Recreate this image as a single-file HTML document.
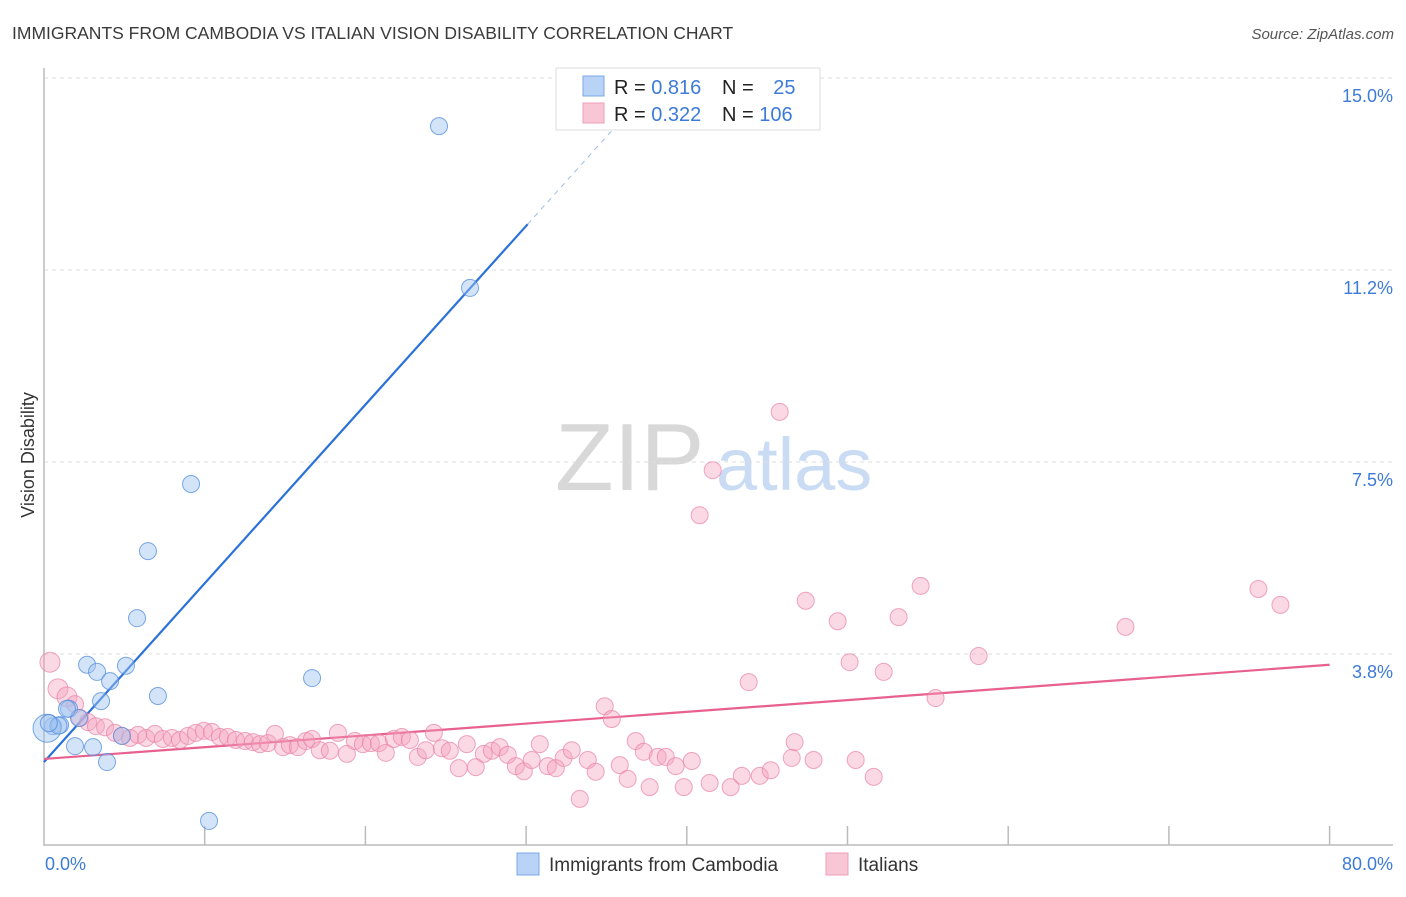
<!DOCTYPE html>
<html><head><meta charset="utf-8"><style>
body{margin:0;background:#fff;font-family:"Liberation Sans",sans-serif;}
svg text{font-family:"Liberation Sans",sans-serif;}
</style></head><body>
<svg id="chart" width="1406" height="892" viewBox="0 0 1406 892" xmlns="http://www.w3.org/2000/svg">
<text x="12" y="39" font-size="17.5" fill="#3a3a3a">IMMIGRANTS FROM CAMBODIA VS ITALIAN VISION DISABILITY CORRELATION CHART</text>
<text x="1394" y="39" font-size="15" fill="#555" text-anchor="end" font-style="italic">Source: ZipAtlas.com</text>
<g>
<text x="555" y="490" font-size="96" fill="#d8d8d8" font-family="Liberation Serif, serif">ZIP</text>
<text x="716" y="490" font-size="74" fill="#c9dcf3">atlas</text>
</g>
<g id="grid"></g>
<g id="axes"></g>
<g id="lines"></g>
<g id="pts"></g>
<text transform="translate(34,455) rotate(-90)" font-size="18" fill="#333" text-anchor="middle">Vision Disability</text>
<g>
<rect x="556" y="68" width="264" height="62" fill="#fff" stroke="#ddd"/>
<rect x="583" y="76" width="21" height="20" fill="#b8d3f5" stroke="#7aa7e6"/>
<rect x="583" y="103" width="21" height="20" fill="#f9c6d5" stroke="#ee9fb8"/>
<text x="614" y="94" font-size="20" fill="#222">R = <tspan fill="#3d7bd9">0.816</tspan></text>
<text x="722" y="94" font-size="20" fill="#222">N = <tspan fill="#3d7bd9" dx="14">25</tspan></text>
<text x="614" y="121" font-size="20" fill="#222">R = <tspan fill="#3d7bd9">0.322</tspan></text>
<text x="722" y="121" font-size="20" fill="#222">N = <tspan fill="#3d7bd9">106</tspan></text>
</g>
<g>
<rect x="517" y="853" width="22" height="22" fill="#b8d3f5" stroke="#7aa7e6"/>
<text x="549" y="871" font-size="19" fill="#333">Immigrants from Cambodia</text>
<rect x="826" y="853" width="22" height="22" fill="#f9c6d5" stroke="#ee9fb8"/>
<text x="858" y="871" font-size="19" fill="#333">Italians</text>
</g>
</svg>
<script>
const yTicks=[3.75,7.5,11.25,15];
const yTickLabels=["3.8%","7.5%","11.2%","15.0%"];
const xTickVals=[0,10,20,30,40,50,60,70,80];
const xEndLabels=["0.0%","80.0%"];
const blueX=[24.58,26.51,9.15,6.47,5.79,2.68,3.30,5.10,4.11,7.09,3.55,16.68,1.56,2.18,0.56,1.0,0.19,1.93,3.05,3.92,10.27,4.85,1.43,0.9,0.3];
const blueY=[14.06,10.90,7.07,5.76,4.45,3.54,3.40,3.52,3.22,2.93,2.83,3.28,2.68,2.50,2.34,2.36,2.30,1.95,1.93,1.64,0.49,2.15,2.68,2.35,2.40];
const pinkX=[0.37,0.87,1.43,1.93,2.24,2.74,3.23,3.80,4.42,4.85,5.35,5.85,6.35,6.90,7.40,7.96,8.46,8.96,9.45,9.95,10.45,10.95,11.44,11.94,12.50,13.00,13.44,13.93,14.37,14.87,15.30,15.80,16.30,16.67,17.16,17.79,18.29,18.85,19.34,19.84,20.34,20.84,21.27,21.77,22.27,22.77,23.26,23.76,24.26,24.76,25.25,25.81,26.31,26.87,27.37,27.87,28.36,28.86,29.36,29.86,30.35,30.85,31.35,31.85,32.34,32.84,33.34,33.84,34.33,34.89,35.33,35.83,36.32,36.82,37.32,37.69,38.19,38.69,39.31,39.81,40.31,40.80,41.42,41.61,42.73,43.42,43.85,44.54,45.22,45.78,46.53,46.71,47.40,47.89,49.39,50.13,50.51,51.63,52.25,53.18,54.55,55.48,58.16,67.30,75.57,76.94];
const pinkY=[3.59,3.07,2.91,2.77,2.50,2.42,2.34,2.32,2.21,2.15,2.11,2.17,2.11,2.19,2.09,2.11,2.07,2.15,2.21,2.25,2.23,2.13,2.13,2.07,2.05,2.03,1.99,2.01,2.19,1.93,1.97,1.93,2.05,2.09,1.87,1.86,2.21,1.80,2.05,1.99,2.01,2.01,1.82,2.09,2.13,2.07,1.74,1.87,2.21,1.91,1.86,1.52,1.99,1.54,1.80,1.86,1.93,1.78,1.56,1.46,1.68,1.99,1.56,1.52,1.72,1.87,0.92,1.68,1.45,2.73,2.48,1.58,1.31,2.05,1.84,1.15,1.74,1.74,1.56,1.15,1.66,6.46,1.23,7.34,1.15,1.37,3.20,1.37,1.48,8.48,1.72,2.03,4.79,1.68,4.39,3.59,1.68,1.35,3.40,4.47,5.08,2.89,3.71,4.28,5.02,4.71];
const blueFit=[1.64,0.349];
const pinkFit=[1.70,0.023];
const NS="http://www.w3.org/2000/svg";
const X=v=>44+v*16.07, Y=v=>846-v*51.2;
function mk(tag,attrs,parent,txt){const e=document.createElementNS(NS,tag);for(const k in attrs)e.setAttribute(k,attrs[k]);if(txt!==undefined)e.textContent=txt;document.getElementById(parent).appendChild(e);return e;}
yTicks.forEach((t,i)=>{
 let g=mk('line',{x1:44,x2:1393,y1:Y(t),y2:Y(t),stroke:'#dedede','stroke-dasharray':'4,4'},'grid');
 
 
 let l=mk('text',{x:1393,y:Y(t)+24,'font-size':18,fill:'#3d7bd9','text-anchor':'end'},'grid',yTickLabels[i]);
 
 
});
let ax=mk('line',{x1:44,x2:44,y1:68,y2:846,stroke:'#bbb','stroke-width':1.5},'axes');


let bx=mk('line',{x1:44,x2:1393,y1:845,y2:845,stroke:'#bbb','stroke-width':1.5},'axes');


xTickVals.slice(1).forEach(v=>{
 let t=mk('line',{x1:X(v),x2:X(v),y1:826,y2:845,stroke:'#bbb','stroke-width':1.5},'axes');
 
 
});
let xl0=mk('text',{x:45,y:870,'font-size':18,fill:'#3d7bd9'},'axes',xEndLabels[0]);


let xl1=mk('text',{x:1393,y:870,'font-size':18,fill:'#3d7bd9','text-anchor':'end'},'axes',xEndLabels[1]);


pinkX.forEach((x,i)=>{
 let c=mk('circle',{cx:X(x),cy:Y(pinkY[i]),r:i<3?10:8.5,fill:'rgba(245,160,188,0.4)',stroke:'rgba(232,130,165,0.7)','stroke-width':1},'pts');
 
 
});
blueX.forEach((x,i)=>{
 let c=mk('circle',{cx:X(x),cy:Y(blueY[i]),r:i===16?14:8.5,fill:'rgba(160,196,240,0.45)',stroke:'rgba(80,140,220,0.75)','stroke-width':1},'pts');
 
 
});
const bxEnd=30.1, bxDash=37;
let bl=mk('line',{x1:X(0),y1:Y(blueFit[0]),x2:X(bxEnd),y2:Y(blueFit[0]+blueFit[1]*bxEnd),stroke:'#2a72d9','stroke-width':2.2},'lines');


let bd=mk('line',{x1:X(bxEnd),y1:Y(blueFit[0]+blueFit[1]*bxEnd),x2:X(bxDash),y2:Y(blueFit[0]+blueFit[1]*bxDash),stroke:'#9bbce8','stroke-width':1,'stroke-dasharray':'5,5'},'lines');


let pl=mk('line',{x1:X(0),y1:Y(pinkFit[0]),x2:X(80),y2:Y(pinkFit[0]+pinkFit[1]*80),stroke:'#e8608e','stroke-width':2.2},'lines');


</script>
</body></html>
